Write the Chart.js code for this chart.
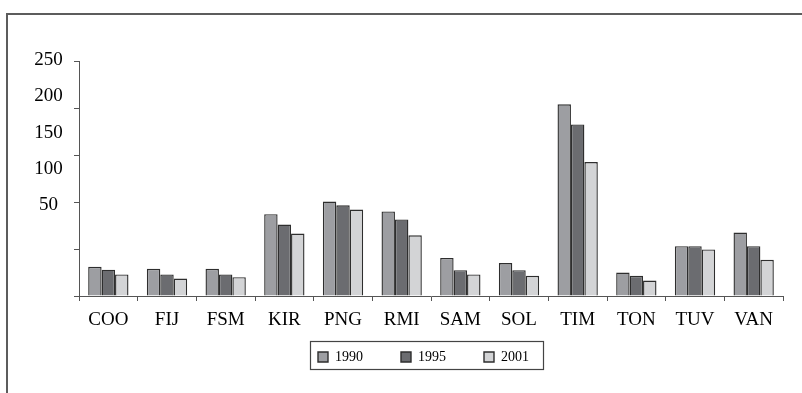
<!DOCTYPE html>
<html>
<head>
<meta charset="utf-8">
<script src="https://cdn.jsdelivr.net/npm/chart.js@4"></script>
<style>
  html, body { margin: 0; padding: 0; background: #ffffff; }
  #wrap { width: 802px; height: 393px; position: relative; }
</style>
</head>
<body>
<div id="wrap"><canvas id="c" width="802" height="393"></canvas></div>
<script>
// ---- data ----
const categories = ['COO', 'FIJ', 'FSM', 'KIR', 'PNG', 'RMI', 'SAM', 'SOL', 'TIM', 'TON', 'TUV', 'VAN'];
const seriesNames = ['1990', '1995', '2001'];
const values1990 = [31, 29, 29, 87, 100.5, 90, 40.5, 35, 204, 25, 53, 67.5];
const values1995 = [28, 23, 23, 76, 96.5, 81.5, 27.5, 27.5, 182.5, 21.5, 53, 53];
const values2001 = [23, 18.5, 20, 66.5, 92, 64.5, 23, 21.5, 142.5, 16.5, 49.5, 38.5];
const yTickLabels = [50, 100, 150, 200, 250];
const yMin = 0, yMax = 250, yStep = 50;

const colors = ['#9d9ea2', '#6b6c70', '#d3d4d6'];
const serif = "'Liberation Serif', 'Times New Roman', serif";

const framePlugin = {
  id: 'frame',
  beforeDraw(chart) {
    const ctx = chart.ctx;
    ctx.save();
    ctx.strokeStyle = '#5c5c5c';
    ctx.lineWidth = 2;
    ctx.beginPath();
    ctx.moveTo(6, 14);
    ctx.lineTo(802, 14);
    ctx.moveTo(7, 13);
    ctx.lineTo(7, 393);
    ctx.stroke();
    ctx.restore();
  }
};

const legendBoxPlugin = {
  id: 'legendBox',
  afterDraw(chart) {
    const lg = chart.legend;
    if (!lg || !lg.legendHitBoxes || !lg.legendHitBoxes.length) return;
    const hb = lg.legendHitBoxes;
    let l = Infinity, r = -Infinity, t = Infinity;
    hb.forEach(h => { l = Math.min(l, h.left); r = Math.max(r, h.left + h.width); t = Math.min(t, h.top); });
    const ctx = chart.ctx;
    ctx.save();
    ctx.strokeStyle = '#444444';
    ctx.lineWidth = 1.2;
    ctx.strokeRect(Math.round(l - 8) + 0.5, Math.round(t - 9) + 0.5, Math.round(r - l + 22), 28);
    ctx.restore();
  }
};

new Chart(document.getElementById('c'), {
  type: 'bar',
  data: {
    labels: categories,
    datasets: [
      { label: seriesNames[0], data: values1990, backgroundColor: colors[0] },
      { label: seriesNames[1], data: values1995, backgroundColor: colors[1] },
      { label: seriesNames[2], data: values2001, backgroundColor: colors[2] }
    ].map(d => Object.assign(d, {
      borderColor: '#2e2e2e', borderWidth: 1.4, yAxisID: 'y',
      categoryPercentage: 0.687, barPercentage: 1.0
    }))
  },
  options: {
    responsive: false,
    devicePixelRatio: 1,
    animation: false,
    layout: { padding: { left: 64, right: 19, top: 61, bottom: 29 } },
    plugins: {
      title: { display: false },
      tooltip: { enabled: false },
      legend: {
        position: 'bottom',
        maxHeight: 52,
        labels: {
          boxWidth: 10, boxHeight: 10, padding: 38,
          color: '#000', font: { family: serif, size: 14 }
        }
      }
    },
    scales: {
      x: {
        offset: true,
        grid: { display: true, drawOnChartArea: false, tickLength: 5, color: '#555', offset: true },
        border: { display: true, color: '#555', width: 1 },
        ticks: { mirror: true, color: '#000', font: { family: serif, size: 19 }, padding: -35, maxRotation: 0, autoSkip: false },
        afterFit(s) { s.height = 16; }
      },
      y: {
        position: 'left',
        weight: 0,
        min: yMin, max: yMax,
        ticks: { stepSize: yStep, display: false },
        grid: { display: true, drawOnChartArea: false, tickLength: 5, color: '#555' },
        border: { display: true, color: '#555', width: 1 },
        afterFit(s) { s.width = 6; }
      },
      yLabels: {
        position: 'left',
        weight: 1,
        min: -74.4, max: 248.6,
        grid: { display: false },
        border: { display: false },
        ticks: { mirror: true, crossAlign: 'center', padding: -38.75, color: '#000', font: { family: serif, size: 19 } },
        afterBuildTicks(s) { s.ticks = yTickLabels.map(v => ({ value: v })); },
        afterFit(s) { s.width = 9; }
      }
    }
  },
  plugins: [framePlugin, legendBoxPlugin]
});
</script>
</body>
</html>
